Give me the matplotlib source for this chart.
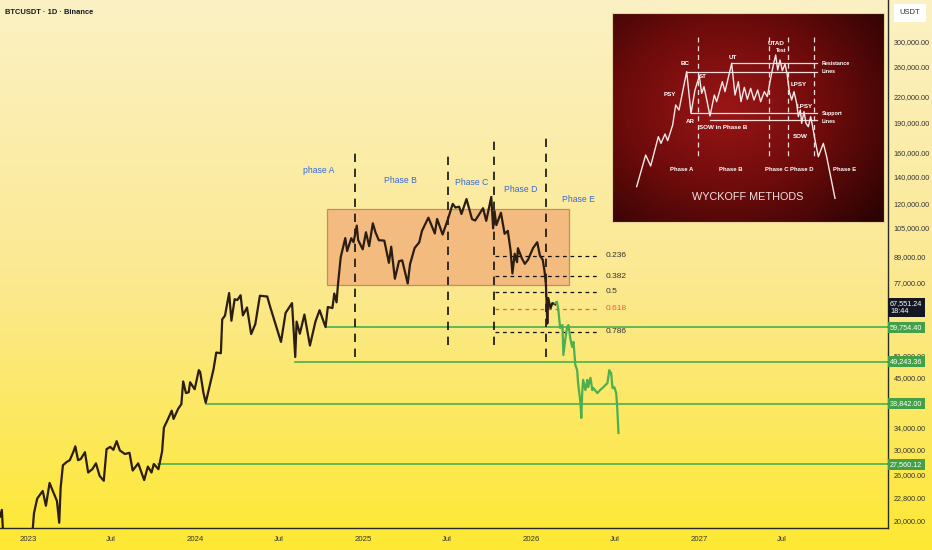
import numpy as np
import pandas as pd
import matplotlib
matplotlib.use('Agg')
import matplotlib.pyplot as plt
import matplotlib.dates as mdates
from matplotlib.colors import LinearSegmentedColormap
from matplotlib.patches import Rectangle
from matplotlib.ticker import FixedLocator, NullLocator, FixedFormatter

FONT = ['Liberation Sans', 'DejaVu Sans']
plt.rcParams['font.family'] = FONT

# ---------------- data ----------------
btc_dates = [
    '2022-11-01', '2022-11-05', '2022-11-08', '2022-11-13', '2022-12-15', '2023-01-08', '2023-01-14',
    '2023-01-21', '2023-02-02', '2023-02-09', '2023-02-17', '2023-02-24', '2023-03-05', '2023-03-10',
    '2023-03-13', '2023-03-18', '2023-03-26', '2023-04-02', '2023-04-10', '2023-04-14', '2023-04-20',
    '2023-04-26', '2023-05-05', '2023-05-12', '2023-05-21', '2023-05-29', '2023-06-06', '2023-06-15',
    '2023-06-21', '2023-06-29', '2023-07-06', '2023-07-13', '2023-07-20', '2023-07-31', '2023-08-10',
    '2023-08-17', '2023-08-29', '2023-09-11', '2023-09-19', '2023-09-27', '2023-10-02', '2023-10-12',
    '2023-10-20', '2023-10-24', '2023-11-01', '2023-11-10', '2023-11-14', '2023-11-24', '2023-12-01',
    '2023-12-05', '2023-12-11', '2023-12-17', '2023-12-20', '2023-12-30', '2024-01-08', '2024-01-11',
    '2024-01-18', '2024-01-23', '2024-02-01', '2024-02-09', '2024-02-15', '2024-02-25', '2024-02-28',
    '2024-03-05', '2024-03-14', '2024-03-19', '2024-03-26', '2024-04-01', '2024-04-08', '2024-04-13',
    '2024-04-22', '2024-05-01', '2024-05-10', '2024-05-20', '2024-06-05', '2024-06-11', '2024-06-24',
    '2024-07-05', '2024-07-15', '2024-07-29', '2024-08-05', '2024-08-08', '2024-08-15', '2024-08-25',
    '2024-09-06', '2024-09-18', '2024-09-27', '2024-10-10', '2024-10-15', '2024-10-25', '2024-10-29',
    '2024-11-03', '2024-11-06', '2024-11-12', '2024-11-22', '2024-11-26', '2024-12-05', '2024-12-10',
    '2024-12-17', '2024-12-20', '2024-12-30', '2025-01-06', '2025-01-13', '2025-01-21', '2025-01-27',
    '2025-02-03', '2025-02-15', '2025-02-25', '2025-03-02', '2025-03-10', '2025-03-19', '2025-03-26',
    '2025-04-07', '2025-04-12', '2025-04-22', '2025-05-02', '2025-05-08', '2025-05-22', '2025-06-05',
    '2025-06-10', '2025-06-22', '2025-07-03', '2025-07-14', '2025-07-20', '2025-07-28', '2025-08-02',
    '2025-08-13', '2025-08-25', '2025-09-01', '2025-09-18', '2025-09-25', '2025-10-06', '2025-10-10',
    '2025-10-13', '2025-10-17', '2025-10-27', '2025-11-04', '2025-11-11', '2025-11-17', '2025-11-21',
    '2025-11-26', '2025-12-01', '2025-12-03', '2025-12-12', '2025-12-18', '2025-12-25', '2026-01-05',
    '2026-01-14', '2026-01-20', '2026-01-26', '2026-01-30', '2026-02-02', '2026-02-05', '2026-02-07',
    '2026-02-12', '2026-02-16', '2026-02-22',
]
btc_close = [
    20500, 21300, 18500, 16300, 17100, 17100, 20900,
    22700, 23700, 21800, 24800, 23700, 22400, 19800,
    24100, 27400, 27900, 28200, 29600, 30500, 28200,
    28400, 29500, 26300, 26800, 27700, 25800, 25100,
    30000, 30400, 29900, 31400, 29800, 29200, 29400,
    26600, 27700, 25200, 27200, 26300, 27600, 26800,
    29600, 33900, 35400, 37300, 35600, 37700, 38700,
    44000, 41200, 41400, 43800, 42100, 46900, 46400,
    41300, 39000, 43100, 47100, 51800, 51600, 62500,
    63800, 72500, 62000, 70000, 69700, 71600, 63900,
    66800, 57500, 60800, 71400, 71100, 67300, 60300,
    55000, 64800, 68500, 50500, 61700, 57600, 64200,
    53900, 61700, 65800, 59800, 67000, 66600, 72300,
    68800, 75900, 88700, 98900, 91900, 98800, 96600,
    106100, 97800, 92800, 102200, 94500, 107500, 102000,
    97700, 97500, 86000, 94200, 78600, 86800, 87200,
    76500, 85300, 93500, 96500, 103000, 111000, 101500,
    110200, 100900, 109600, 120000, 117500, 118100, 113300,
    123300, 110100, 109200, 117100, 109000, 124800, 104500,
    115200, 106400, 114100, 101300, 103000, 92200, 81000,
    90500, 86300, 93400, 88000, 85500, 87500, 93500,
    96600, 89500, 87500, 82000, 76000, 61000, 70500,
    66500, 68500, 68000,
]
proj_dates = [
    '2026-02-22', '2026-02-26', '2026-03-01', '2026-03-05', '2026-03-10', '2026-03-12', '2026-03-16',
    '2026-03-20', '2026-03-23', '2026-03-27', '2026-03-31', '2026-04-03', '2026-04-07', '2026-04-11',
    '2026-04-13', '2026-04-18', '2026-04-20', '2026-04-22', '2026-04-24', '2026-04-29', '2026-05-03',
    '2026-05-05', '2026-05-10', '2026-05-14', '2026-05-16', '2026-05-25', '2026-05-31', '2026-06-07',
    '2026-06-16', '2026-06-20', '2026-06-24', '2026-06-27', '2026-07-01', '2026-07-05', '2026-07-07',
    '2026-07-10',
]
proj_close = [
    68500, 69000, 65900, 59500, 60500, 51100, 55600,
    59800, 60500, 56200, 53500, 55000, 48300, 46900,
    43600, 39200, 35800, 41200, 44400, 41900, 44400,
    42600, 44900, 41900, 42400, 41200, 41900, 42600,
    43600, 46900, 46100, 42400, 42600, 41200, 38500,
    32900,
]
support_levels = [59754.40, 49243.36, 38842.00, 27560.12]
support_start = ['2024-10-10', '2024-08-05', '2024-01-23', '2023-10-12']
box_start, box_end = '2024-10-13', '2026-03-25'
box_high, box_low = 116600, 75900
phase_line_dates = ['2024-12-13', '2025-07-04', '2025-10-11', '2026-02-03']
phase_line_top = [162700, 162700, 172000, 175000]
phase_line_bottom = [50500, 54100, 54100, 50500]
phase_labels = ['phase A', 'Phase B', 'Phase C', 'Phase D', 'Phase E']
phase_label_dates = ['2024-09-24', '2025-03-23', '2025-08-25', '2025-12-08', '2026-04-13']
phase_label_prices = [144500, 136600, 135000, 129800, 123300]
fib_labels = ['0.236', '0.382', '0.5', '0.618', '0.786']
fib_prices = [89500, 79800, 73100, 66300, 58200]
fib_start, fib_end, fib_text_date = '2025-10-15', '2026-05-31', '2026-06-13'
price_ticks = [300000, 260000, 220000, 190000, 160000, 140000, 120000, 105000, 89000,
               77000, 51000, 45000, 34000, 30000, 26000, 22800, 20000]
time_ticks = ['2023-01-01', '2023-07-01', '2024-01-01', '2024-07-01', '2025-01-01', '2025-07-01',
              '2026-01-01', '2026-07-01', '2027-01-01', '2027-07-01']
time_labels = ['2023', 'Jul', '2024', 'Jul', '2025', 'Jul', '2026', 'Jul', '2027', 'Jul']
last_price = 67551.24
countdown = '18:44'

# Wyckoff schematic (inset picture)
schem_x = [95, 122, 137, 160, 168, 180, 188, 203, 212, 222, 245, 258, 270, 283, 290, 297, 305, 315,
           328, 335, 352, 360, 380, 390, 400, 408, 418, 427, 437, 447, 458, 467, 478, 487, 495, 505,
           512, 518, 525, 532, 540, 546, 553, 560, 567, 575, 580, 586, 590, 597, 603, 610, 617, 622,
           630, 640, 655, 665, 690]
schem_y = [530, 435, 468, 380, 400, 372, 392, 345, 285, 300, 185, 310, 240, 198, 250, 230, 268, 318,
           255, 275, 215, 245, 160, 255, 215, 275, 232, 268, 235, 270, 240, 275, 245, 260, 215, 165,
           135, 180, 150, 182, 162, 190, 245, 270, 245, 280, 320, 300, 340, 305, 340, 350, 320, 345,
           390, 440, 400, 440, 565]
schem_hlines_y = [160, 185, 310, 330]
schem_hlines_x0 = [380, 245, 258, 315]
schem_vlines_x = [278, 492, 548, 627]
schem_events = [('PSY', 195, 255), ('BC', 240, 160), ('ST', 292, 200), ('AR', 255, 335), ('UT', 382, 142),
                ('UTAD', 513, 100), ('Test', 530, 122), ('SOW in Phase B', 355, 352), ('LPSY', 582, 225),
                ('LPSY', 600, 290), ('SOW', 585, 378)]
schem_lines_text = [('Resistance', 650, 160), ('Lines', 650, 185), ('Support', 650, 310), ('Lines', 650, 335)]
schem_phases = [('Phase A', 230, 478), ('Phase B', 378, 478), ('Phase C', 515, 478),
                ('Phase D', 590, 478), ('Phase E', 718, 478)]

# ---------------- figure ----------------
W, H = 932, 550
fig = plt.figure(figsize=(W / 100, H / 100), dpi=100)

bg = fig.add_axes([0, 0, 1, 1], zorder=-10)
grad = np.linspace(0, 1, 256).reshape(-1, 1)
bg_cmap = LinearSegmentedColormap.from_list('bg', ['#fcf1c4', '#fbe992', '#fee833'])
bg.imshow(grad, aspect='auto', cmap=bg_cmap, extent=[0, 1, 0, 1], origin='upper')
bg.axis('off')

ax = fig.add_axes([0, 22 / H, 888 / W, 528 / H])
ax.set_facecolor('none')
d = lambda s: mdates.date2num(pd.to_datetime(s))
ax.set_yscale('log')
ax.set_ylim(19224, 379600)
ax.set_xlim(d('2022-11-01'), d('2028-02-17'))

for s in ['top', 'left']:
    ax.spines[s].set_visible(False)
for s in ['right', 'bottom']:
    ax.spines[s].set_color('#2a2a2a')
    ax.spines[s].set_linewidth(1.0)

ax.yaxis.tick_right()
ax.yaxis.set_major_locator(FixedLocator(price_ticks))
ax.yaxis.set_minor_locator(NullLocator())
ax.yaxis.set_major_formatter(FixedFormatter([f'{v:,.2f}' for v in price_ticks]))
ax.tick_params(axis='y', length=0, pad=4, labelsize=5.2, labelcolor='#333333')
ax.set_xticks([d(t) for t in time_ticks])
ax.set_xticklabels(time_labels)
ax.xaxis.set_minor_locator(NullLocator())
ax.tick_params(axis='x', length=0, pad=6, labelsize=5.6, labelcolor='#333333')

# range box
x0, x1 = d(box_start), d(box_end)
ax.add_patch(Rectangle((x0, box_low), x1 - x0, box_high - box_low, facecolor='#f4b77e',
                       edgecolor='#b98b5c', lw=0.9, alpha=0.92, zorder=1))

# support lines
for lvl, st in zip(support_levels, support_start):
    ax.plot([d(st), ax.get_xlim()[1]], [lvl, lvl], color='#4caf50', lw=1.2, zorder=2)

# price series
bx = [d(t) for t in btc_dates]
ax.plot(bx, btc_close, color='#2b1d12', lw=1.6, zorder=4)
px = [d(t) for t in proj_dates]
ax.plot(px, proj_close, color='#4caf50', lw=1.6, zorder=4)

# phase dashed lines
for t, top, bot in zip(phase_line_dates, phase_line_top, phase_line_bottom):
    ax.plot([d(t), d(t)], [bot, top], color='#111111', lw=1.2, ls=(0, (5, 4)), zorder=3)

for lab, t, p in zip(phase_labels, phase_label_dates, phase_label_prices):
    ax.text(d(t), p, lab, color='#3468d8', fontsize=6.2, ha='center', va='center', zorder=5)

# fib levels
for lab, p in zip(fib_labels, fib_prices):
    col = '#f05a4f' if lab == '0.618' else '#111111'
    ax.plot([d(fib_start), d(fib_end)], [p, p], color=col, lw=0.9, ls=(0, (3, 3)), zorder=3)
    ax.text(d(fib_text_date), p, lab, color=col if lab == '0.618' else '#333333',
            fontsize=6, ha='left', va='center', zorder=5)

# axis price labels
def axlabel(price, text, fc, dy=0, va='center'):
    ax.annotate(text, xy=(1.0, price), xycoords=('axes fraction', 'data'), xytext=(1.5, dy),
                textcoords='offset points', ha='left', va=va, fontsize=5.2, color='white',
                bbox=dict(boxstyle='square,pad=0.3', fc=fc, ec='none'),
                annotation_clip=False, zorder=10)

for lvl in support_levels:
    axlabel(lvl, f'{lvl:,.2f}', '#43a047')
axlabel(last_price, f'{last_price:,.2f}\n{countdown}', '#131722', dy=4, va='top')

# USDT box
fig.text(910 / W, 1 - 13 / H, 'USDT', ha='center', va='center', fontsize=5.5, color='#333333',
         bbox=dict(boxstyle='square,pad=0.7', fc='white', ec='none'))

# title
fig.text(5 / W, 1 - 13 / H, 'BTCUSDT · 1D · Binance', ha='left', va='center', fontsize=5.4,
         fontweight='bold', color='#131722')

# ---------------- inset ----------------
ins = fig.add_axes([612 / W, (H - 222) / H, 272 / W, 209 / H])
yy, xx = np.mgrid[0:1:200j, 0:1:270j]
r = np.clip(np.sqrt(((xx - 0.42) / 0.75) ** 2 + ((yy - 0.45) / 0.8) ** 2), 0, 1)
in_cmap = LinearSegmentedColormap.from_list('in', ['#9a1616', '#6e0b0b', '#2c0303'])
ins.imshow(r, cmap=in_cmap, extent=[21, 837, 636, 9], aspect='auto')
ins.set_xlim(21, 837)
ins.set_ylim(636, 9)
ins.set_xticks([])
ins.set_yticks([])
for s in ins.spines.values():
    s.set_color('#e6d49a')
    s.set_linewidth(0.8)

lc = '#f3dede'
for y, x0s in zip(schem_hlines_y, schem_hlines_x0):
    ins.plot([x0s, 637], [y, y], color=lc, lw=0.9)
for x in schem_vlines_x:
    ins.plot([x, x], [80, 440], color=lc, lw=0.9, ls=(0, (4, 3)))
ins.plot(schem_x, schem_y, color='#f7e8e8', lw=1.0)
for t, x, y in schem_events:
    ins.text(x, y, t, color='white', fontsize=4.5 if t != 'Test' else 3.8, ha='center', va='center',
             fontweight='bold')
for t, x, y in schem_lines_text:
    ins.text(x, y, t, color='white', fontsize=3.9, ha='left', va='center', fontweight='bold')
for t, x, y in schem_phases:
    ins.text(x, y, t, color='white', fontsize=4.3, ha='center', va='center', fontweight='bold')
ins.text(428, 560, 'WYCKOFF METHODS', color='#f2e2e2', fontsize=7.8, ha='center', va='center')

fig.savefig('out.png', dpi=100)
